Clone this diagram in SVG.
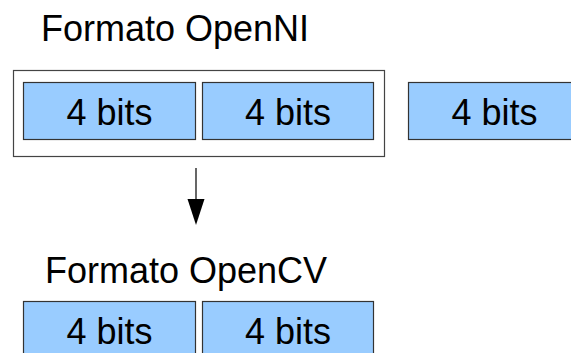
<svg xmlns="http://www.w3.org/2000/svg" width="571" height="353" viewBox="0 0 571 353">
  <style>
    .label { font-family: "Liberation Sans", Arial, sans-serif; font-size: 36px; fill: #000; }
    .cell { fill: #99ccff; stroke: #333; stroke-width: 1.2; }
    .frame { fill: none; stroke: #444; stroke-width: 1.2; }
    .cell-text { font-family: "Liberation Sans", Arial, sans-serif; font-size: 36px; fill: #000; text-anchor: middle; }
  </style>
  <defs>
    <marker id="arrowhead" markerWidth="17" markerHeight="26" refX="8.5" refY="26" orient="auto-start-reverse" markerUnits="userSpaceOnUse" viewBox="0 0 17 26">
      <path d="M0,0 L17,0 L8.5,26 Z" fill="#000"/>
    </marker>
  </defs>

  <text class="label" x="41" y="41">Formato OpenNI</text>

  <g id="openni-frame">
    <rect class="frame" x="13.5" y="70.5" width="371" height="86"/>
  </g>
  <g id="openni-cell-1">
    <rect class="cell" x="23.5" y="82.5" width="172" height="57"/>
    <text class="cell-text" x="109.5" y="125">4 bits</text>
  </g>
  <g id="openni-cell-2">
    <rect class="cell" x="202.5" y="82.5" width="171" height="57"/>
    <text class="cell-text" x="288" y="125">4 bits</text>
  </g>
  <g id="openni-cell-3">
    <rect class="cell" x="408.5" y="82.5" width="172" height="57"/>
    <text class="cell-text" x="494.5" y="125">4 bits</text>
  </g>

  <g id="connectors">
    <line x1="196" y1="168" x2="196" y2="199" stroke="#000" stroke-width="1.2"/>
    <path d="M187.5,199 L204.5,199 L196,225 Z" fill="#000"/>
  </g>

  <text class="label" x="45" y="283">Formato OpenCV</text>

  <g id="opencv-cell-1">
    <rect class="cell" x="23.5" y="301.5" width="172" height="60"/>
    <text class="cell-text" x="109.5" y="344">4 bits</text>
  </g>
  <g id="opencv-cell-2">
    <rect class="cell" x="202.5" y="301.5" width="171" height="60"/>
    <text class="cell-text" x="288" y="344">4 bits</text>
  </g>
</svg>
